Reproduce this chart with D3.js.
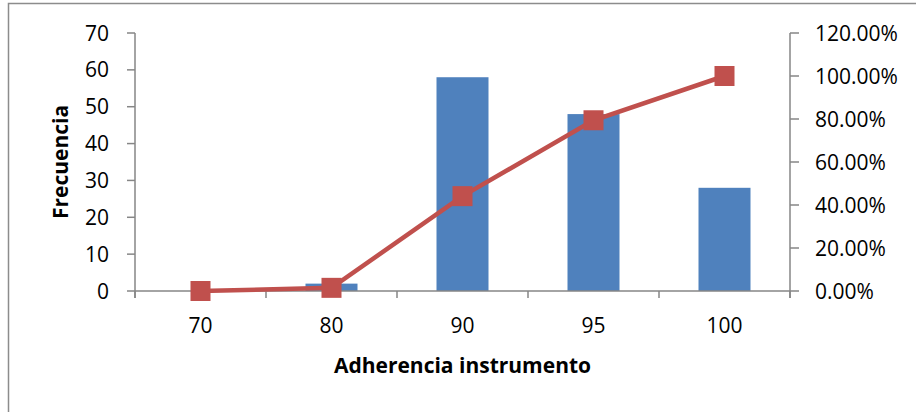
<!DOCTYPE html>
<html>
<head>
<meta charset="utf-8" />
<script src="https://d3js.org/d3.v7.min.js"></script>
<style>
	body { margin: 0; background: #fff; }
	text { font-family: "Open Sans", Lato, sans-serif; fill: #000; }
</style>
</head>
<body>
<div id="chart"></div>
<script>
	// valores
	var categorias = ["70", "80", "90", "95", "100"];
	var frecuencia = [0, 2, 58, 48, 28];
	var acumulado = [0.0, 0.0147, 0.4412, 0.7941, 1.0];
	var ticksIzq = [0, 10, 20, 30, 40, 50, 60, 70];
	var ticksDer = [0, 0.2, 0.4, 0.6, 0.8, 1.0, 1.2];

	var W = 916, H = 412;
	var mIzq = 135, mDer = 790, mSup = 33, mInf = 291;

	var svg = d3.select("#chart").append("svg")
		.attr("width", W)
		.attr("height", H);

	// marco del area del grafico
	svg.append("rect")
		.attr("x", 8.5).attr("y", 3.5)
		.attr("width", 920).attr("height", 420)
		.attr("fill", "none")
		.attr("stroke", "#8c8c8c")
		.attr("stroke-width", 1.5);

	var x = d3.scaleBand().domain(categorias).range([mIzq, mDer]);
	var y = d3.scaleLinear().domain([0, 70]).range([mInf, mSup]);
	var y2 = d3.scaleLinear().domain([0, 1.2]).range([mInf, mSup]);

	var gris = "#868686";
	var fs = "21px";

	// barras
	var bw = 52;
	svg.selectAll(".bar")
		.data(frecuencia)
		.enter().append("rect")
		.attr("class", "bar")
		.attr("x", function (d, i) { return x(categorias[i]) + x.bandwidth() / 2 - bw / 2; })
		.attr("y", function (d) { return y(d); })
		.attr("width", bw)
		.attr("height", function (d) { return mInf - y(d); })
		.attr("fill", "#4F81BD");

	// eje x
	var gx = svg.append("g")
		.attr("transform", "translate(0," + mInf + ")");
	gx.append("line")
		.attr("x1", mIzq).attr("x2", mDer)
		.attr("stroke", gris).attr("stroke-width", 1.5);
	gx.selectAll(".tx")
		.data(d3.range(categorias.length + 1))
		.enter().append("line")
		.attr("x1", function (i) { return mIzq + i * x.bandwidth(); })
		.attr("x2", function (i) { return mIzq + i * x.bandwidth(); })
		.attr("y1", 0).attr("y2", 7)
		.attr("stroke", gris).attr("stroke-width", 1.5);
	gx.selectAll(".lx")
		.data(categorias)
		.enter().append("text")
		.attr("x", function (d) { return x(d) + x.bandwidth() / 2; })
		.attr("y", 42)
		.attr("text-anchor", "middle")
		.style("font-size", fs)
		.text(function (d) { return d; });

	// eje izquierdo
	var gy = svg.append("g").attr("transform", "translate(" + mIzq + ",0)");
	gy.append("line")
		.attr("y1", mSup).attr("y2", mInf + 7)
		.attr("stroke", gris).attr("stroke-width", 1.5);
	gy.selectAll(".ty")
		.data(ticksIzq)
		.enter().append("line")
		.attr("x1", -8).attr("x2", 0)
		.attr("y1", function (d) { return y(d); })
		.attr("y2", function (d) { return y(d); })
		.attr("stroke", gris).attr("stroke-width", 1.5);
	gy.selectAll(".ly")
		.data(ticksIzq)
		.enter().append("text")
		.attr("x", -26)
		.attr("y", function (d) { return y(d); })
		.attr("dy", "0.36em")
		.attr("text-anchor", "end")
		.style("font-size", fs)
		.text(function (d) { return d; });

	// eje derecho
	var gy2 = svg.append("g").attr("transform", "translate(" + mDer + ",0)");
	gy2.append("line")
		.attr("y1", mSup).attr("y2", mInf + 7)
		.attr("stroke", gris).attr("stroke-width", 1.5);
	gy2.selectAll(".ty2")
		.data(ticksDer)
		.enter().append("line")
		.attr("x1", 0).attr("x2", 9)
		.attr("y1", function (d) { return y2(d); })
		.attr("y2", function (d) { return y2(d); })
		.attr("stroke", gris).attr("stroke-width", 1.5);
	gy2.selectAll(".ly2")
		.data(ticksDer)
		.enter().append("text")
		.attr("x", 25)
		.attr("y", function (d) { return y2(d); })
		.attr("dy", "0.36em")
		.style("font-size", fs)
		.text(function (d) { return (d * 100).toFixed(2) + "%"; });

	// linea acumulada
	var linea = d3.line()
		.x(function (d, i) { return x(categorias[i]) + x.bandwidth() / 2; })
		.y(function (d) { return y2(d); });
	svg.append("path")
		.datum(acumulado)
		.attr("d", linea)
		.attr("fill", "none")
		.attr("stroke", "#C0504D")
		.attr("stroke-width", 4.5);
	svg.selectAll(".m")
		.data(acumulado)
		.enter().append("rect")
		.attr("x", function (d, i) { return x(categorias[i]) + x.bandwidth() / 2 - 10; })
		.attr("y", function (d) { return y2(d) - 10; })
		.attr("width", 20).attr("height", 20)
		.attr("fill", "#C0504D");

	// titulos
	svg.append("text")
		.attr("x", (mIzq + mDer) / 2)
		.attr("y", 373)
		.attr("text-anchor", "middle")
		.style("font-size", fs)
		.style("font-weight", "bold")
		.text("Adherencia instrumento");
	svg.append("text")
		.attr("transform", "translate(68," + ((mSup + mInf) / 2) + ") rotate(-90)")
		.attr("text-anchor", "middle")
		.style("font-size", fs)
		.style("font-weight", "bold")
		.text("Frecuencia");
</script>
</body>
</html>
